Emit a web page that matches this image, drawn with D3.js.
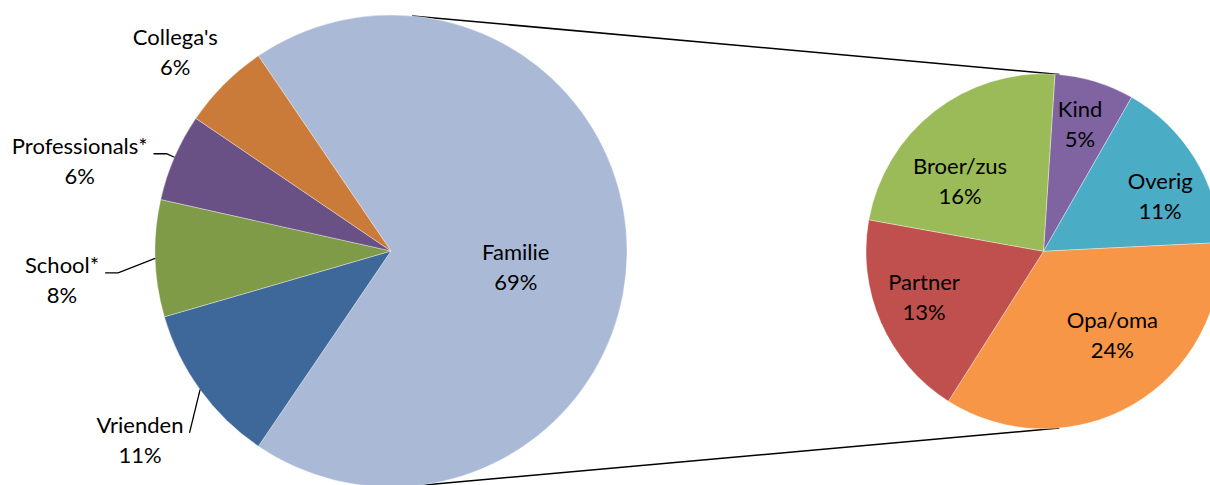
<!DOCTYPE html>
<html>
<head>
<meta charset="utf-8">
<title>Pie of pie</title>
<script src="https://cdn.jsdelivr.net/npm/d3@7"></script>
<style>
body { margin: 0; background: #fff; }
svg { display: block; }
.lbl { font-family: Lato, "Open Sans", sans-serif; font-size: 22px; fill: #000; }
.leader { fill: none; stroke: #000; stroke-width: 1.3; }
.connector { stroke: #000; stroke-width: 1.5; }
</style>
</head>
<body>
<svg width="1210" height="485"></svg>
<script>
// main pie (clockwise, Familie first)
var mainCats   = ["Familie", "Vrienden", "School*", "Professionals*", "Collega's"];
var mainValues = [69, 11, 8, 6, 6];
var mainColors = ["#AAB9D6", "#3F689A", "#7F9B48", "#695185", "#CB7B39"];

// secondary pie = breakdown of Familie (percent of total)
var subCats   = ["Kind", "Overig", "Opa/oma", "Partner", "Broer/zus"];
var subValues = [5, 11, 24, 13, 16];
var subColors = ["#8064A2", "#4BACC6", "#F79646", "#C0504D", "#9BBB59"];

// layout
var main = {cx: 391, cy: 251, r: 236};
var sub  = {cx: 1043.5, cy: 251.3, r: 177.5, start: 3.7};
// label anchors: [angle deg clockwise from 12, distance px], leader stub
var mainLabelAt = {
  "Familie": [100.9, 127], "Vrienden": [231.9, 319], "School*": [263.6, 331],
  "Professionals*": [284.8, 322], "Collega's": [311.5, 288]
};
var mainLeader = {"Vrienden": 0, "School*": 13, "Professionals*": 13};
var subLabelAt = {
  "Kind": [17, 125], "Overig": [67.8, 126], "Opa/oma": [143, 114.5],
  "Partner": [245.8, 131], "Broer/zus": [306.7, 104]
};

var rad = Math.PI / 180;
var svg = d3.select("svg");

function polar(c, angDeg, d) {
  var a = angDeg * rad;
  return [c.cx + d * Math.sin(a), c.cy - d * Math.cos(a)];
}

// connector lines (outer tangents of the two circles)
var dist = sub.cx - main.cx;
var th = Math.asin((main.r - sub.r) / dist);
[-1, 1].forEach(function(s) {
  svg.append("line").attr("class", "connector")
    .attr("x1", main.cx + main.r * Math.sin(th)).attr("y1", main.cy + s * main.r * Math.cos(th))
    .attr("x2", sub.cx + sub.r * Math.sin(th)).attr("y2", sub.cy + s * sub.r * Math.cos(th));
});

function drawPie(c, cats, vals, cols, startDeg) {
  var pie = d3.pie().sort(null).startAngle(startDeg * rad).endAngle(startDeg * rad + 2 * Math.PI);
  var arc = d3.arc().innerRadius(0).outerRadius(c.r);
  var arcs = pie(vals);
  var g = svg.append("g").attr("transform", "translate(" + c.cx + "," + c.cy + ")");
  g.selectAll("path").data(arcs).enter().append("path")
    .attr("d", arc)
    .attr("fill", function(d, i) { return cols[i]; })
    .attr("stroke", "#fff").attr("stroke-width", 0.6).attr("stroke-opacity", 0.6);
  return arcs;
}

function drawLabel(pos, name, pct) {
  var t = svg.append("text").attr("class", "lbl").attr("text-anchor", "middle");
  t.append("tspan").attr("x", pos[0]).attr("y", pos[1] - 15).text(name);
  t.append("tspan").attr("x", pos[0]).attr("y", pos[1] + 15).text(pct + "%");
  return t;
}

var mainStart = 90 - mainValues[0] / 100 * 180;
var mArcs = drawPie(main, mainCats, mainValues, mainColors, mainStart);
var total = d3.sum(mainValues);
mArcs.forEach(function(a, i) {
  var name = mainCats[i];
  var at = mainLabelAt[name];
  var pos = polar(main, at[0], at[1]);
  var t = drawLabel(pos, name, Math.round(mainValues[i] / total * 100));
  if (name in mainLeader) {
    var w = t.select("tspan").node().getComputedTextLength();
    var sx = pos[0] + w / 2 + 6, sy = pos[1] - 15;
    var mid = (a.startAngle + a.endAngle) / 2 / rad;
    var e = polar(main, mid, main.r);
    svg.append("path").attr("class", "leader")
      .attr("d", d3.line()([[sx, sy], [sx + mainLeader[name], sy], e]));
  }
});

var sArcs = drawPie(sub, subCats, subValues, subColors, sub.start);
sArcs.forEach(function(a, i) {
  var at = subLabelAt[subCats[i]];
  drawLabel(polar(sub, at[0], at[1]), subCats[i], subValues[i]);
});
</script>
</body>
</html>
